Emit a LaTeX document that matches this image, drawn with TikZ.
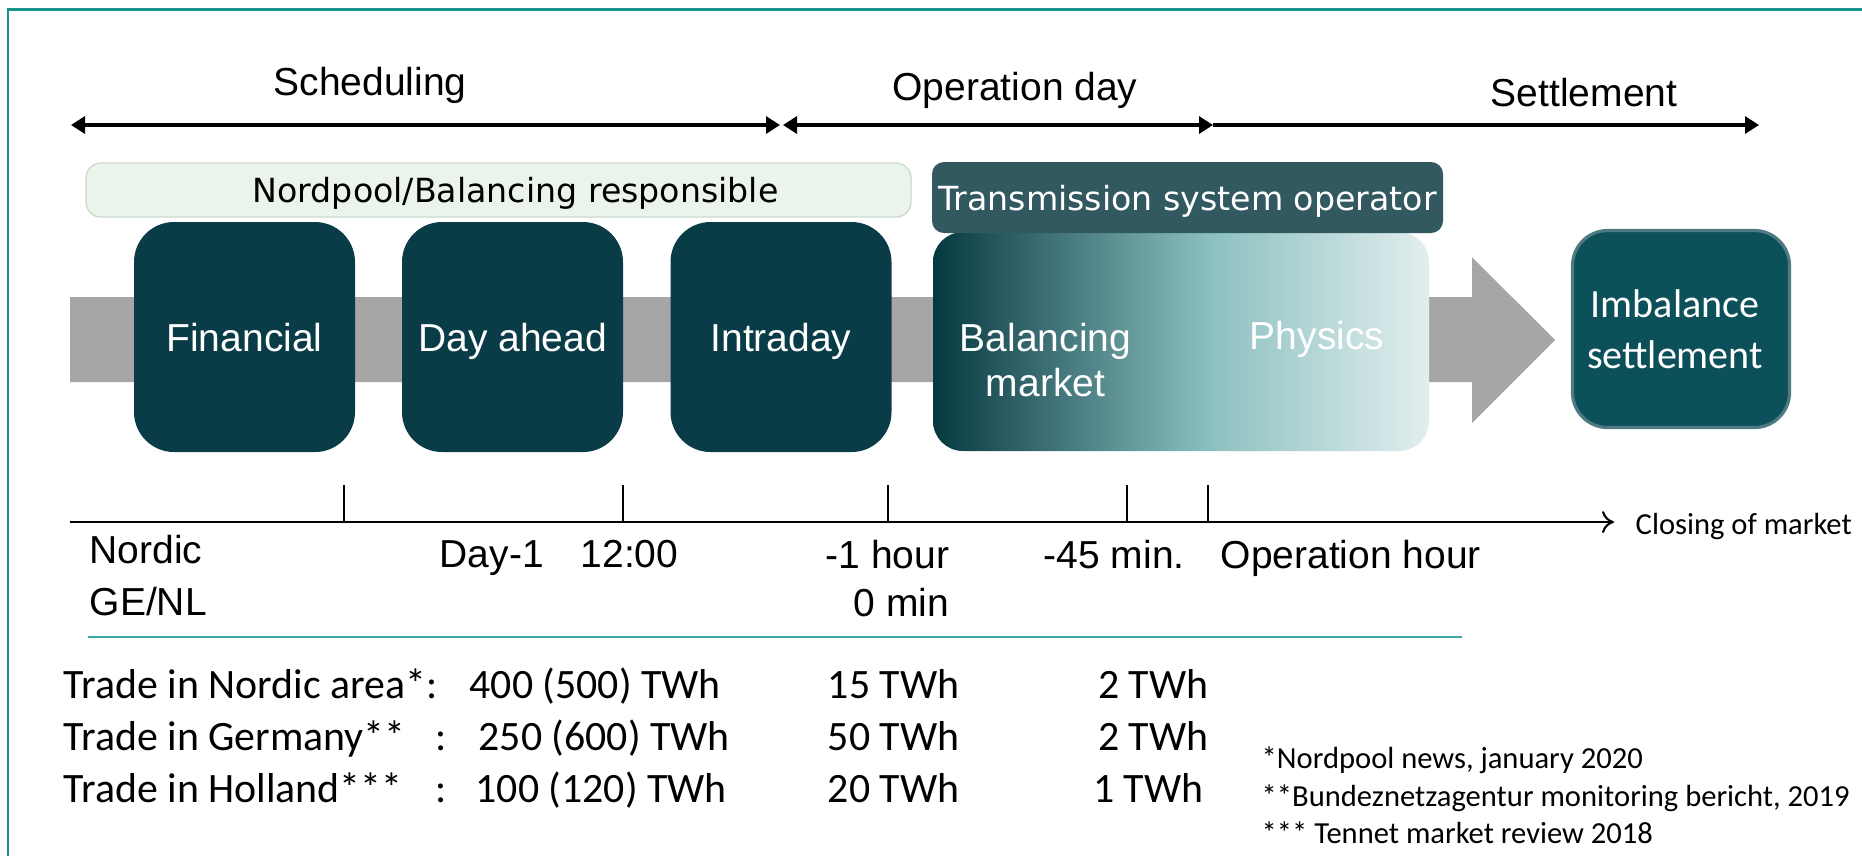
\documentclass[tikz,border=0pt]{standalone}
\usepackage{fontspec}
\setmainfont{Liberation Sans}
\newfontfamily\carlito{Carlito}
\newfontfamily\dejavu{DejaVu Sans}
\usetikzlibrary{arrows.meta}

\definecolor{frameteal}{RGB}{24,148,144}
\definecolor{rulerteal}{RGB}{60,168,166}
\definecolor{boxdark}{RGB}{9,60,70}
\definecolor{tsoslate}{RGB}{50,88,96}
\definecolor{nordfill}{RGB}{234,244,234}
\definecolor{nordedge}{RGB}{204,218,204}
\definecolor{bargray}{RGB}{166,166,166}
\definecolor{imbfill}{RGB}{12,80,90}
\definecolor{imbedge}{RGB}{80,122,130}
\definecolor{fadedark}{RGB}{6,56,64}
\definecolor{fademid}{RGB}{140,192,192}
\definecolor{fadelight}{RGB}{226,238,238}

\pgfdeclarehorizontalshading{tsofade}{100bp}{color(0bp)=(fadedark); color(25bp)=(fadedark); color(53bp)=(fademid); color(75bp)=(fadelight); color(100bp)=(fadelight)}

\tikzset{
	phasetip/.tip={Triangle[width=0.17cm,length=0.14cm]},
	phasearrow/.style={line width=0.9pt, black},
	phaselabel/.style={anchor=base, font=\fontsize{11.1}{13}\selectfont},
	frameline/.style={line width=0.85pt, frameteal},
	rulerline/.style={line width=0.5pt, rulerteal},
	axisline/.style={line width=0.6pt, black},
	rolebox/.style={rectangle, inner sep=0pt, text depth=0pt, font=\dejavu\fontsize{9.45}{11}\selectfont},
	marketbox/.style={rectangle, rounded corners=0.4cm, fill=boxdark, text=white, inner sep=0pt, text depth=0pt,
		minimum width=2.21cm, minimum height=2.30cm, font=\fontsize{11.1}{13}\selectfont},
	boxlabel/.style={text=white, inner sep=0pt, font=\fontsize{11.1}{12.8}\selectfont},
	timelabel/.style={inner sep=0pt, font=\fontsize{11.1}{13}\selectfont},
	tradetext/.style={inner sep=0pt, font=\carlito\fontsize{11.9}{14}\selectfont},
	smallnote/.style={inner sep=0pt, font=\carlito\fontsize{8.7}{10}\selectfont}
}

\begin{document}
\begin{tikzpicture}
	%%%%% FRAME %%%%%
	\useasboundingbox (0,0) rectangle (18.62,-8.56);
	\draw[frameline] (0.08,-8.56) -- (0.08,-0.09) -- (18.62,-0.09);
	
	%%%%% PHASES %%%%%
	\coordinate (schedL) at (0.71,-1.25);
	\coordinate (schedR) at (7.80,-1.25);
	\coordinate (operL) at (7.83,-1.25);
	\coordinate (operR) at (12.13,-1.25);
	\coordinate (settR) at (17.59,-1.25);
	\draw[phasearrow, phasetip-phasetip] (schedL) -- (schedR);
	\draw[phasearrow, phasetip-phasetip] (operL) -- (operR);
	\draw[phasearrow, -phasetip] (operR) -- (settR);
	\node[phaselabel] (sched) at (3.70,-0.95) {Scheduling};
	\node[phaselabel] (oper) at (10.15,-1.00) {Operation day};
	\node[phaselabel] (sett) at (15.84,-1.06) {Settlement};
	
	%%%%% GREY ARROW %%%%%
	\fill[bargray] (0.70,-2.97) -- (14.72,-2.97) -- (14.72,-2.57) -- (15.55,-3.40)
		-- (14.72,-4.23) -- (14.72,-3.82) -- (0.70,-3.82) -- cycle;
	
	%%%%% ROLES %%%%%
	\node[rolebox, rounded corners=0.15cm, fill=nordfill, draw=nordedge, line width=0.4pt,
		minimum width=8.25cm, minimum height=0.54cm] (nordpool) at (4.985,-1.90) {\hspace*{0.34cm}Nordpool/Balancing responsible};
	
	\node[marketbox] (financial) at (2.445,-3.37) {Financial};
	\node[marketbox] (dayahead) at (5.125,-3.37) {Day ahead};
	\node[marketbox] (intraday) at (7.81,-3.37) {Intraday};
	
	\node[rectangle, rounded corners=0.3cm, shade, shading=tsofade, inner sep=0pt,
		minimum width=4.96cm, minimum height=2.19cm] (balancebox) at (11.81,-3.415) {};
	\node[rolebox, rounded corners=0.12cm, fill=tsoslate, text=white,
		minimum width=5.11cm, minimum height=0.71cm] (tso) at (11.875,-1.975) {Transmission system operator};
	\node[boxlabel, align=center] (balmarket) at (10.455,-3.60) {Balancing\\market};
	\node[boxlabel, text depth=0pt] (physics) at (13.17,-3.35) {Physics};
	
	\node[rectangle, rounded corners=0.35cm, fill=imbfill, draw=imbedge, line width=0.9pt,
		minimum width=2.17cm, minimum height=1.97cm, text=white, align=center,
		font=\carlito\fontsize{11.4}{14.4}\selectfont] (imbalance) at (16.81,-3.29) {Imbalance\hspace*{0.12cm}\\settlement\hspace*{0.12cm}};
	
	%%%%% TIMELINE %%%%%
	\coordinate (axisL) at (0.70,-5.22);
	\coordinate (axisR) at (16.14,-5.22);
	\draw[axisline, -{To[length=0.12cm,width=0.22cm]}] (axisL) -- (axisR);
	\foreach \tx in {3.44,6.23,8.88,11.27,12.08}
		\draw[axisline] (\tx,-4.85) -- (\tx,-5.22);
	\node[smallnote, anchor=base west] (closing) at (16.35,-5.34) {Closing of market};
	
	\node[timelabel, anchor=base west] (nordic) at (0.89,-5.63) {Nordic};
	\node[timelabel, anchor=base west] (genl) at (0.89,-6.15) {GE/NL};
	\node[timelabel, anchor=base west] (dayone) at (4.39,-5.67) {Day-1};
	\node[timelabel, anchor=base west] (noon) at (5.80,-5.67) {12:00};
	\node[timelabel, anchor=base east] (onehour) at (9.50,-5.68) {-1 hour};
	\node[timelabel, anchor=base east] (zeromin) at (9.50,-6.16) {0 min};
	\node[timelabel, anchor=base west] (fortyfive) at (10.43,-5.68) {-45 min.};
	\node[timelabel, anchor=base west] (ophour) at (12.20,-5.68) {Operation hour};
	
	\draw[rulerline] (0.88,-6.37) -- (14.62,-6.37);
	
	%%%%% TRADE %%%%%
	\node[tradetext, anchor=base west] (nordrow) at (0.63,-6.98) {Trade in Nordic area*:};
	\node[tradetext, anchor=base west] (gerrow) at (0.63,-7.50) {\makebox[3.72cm][l]{Trade in Germany**}:};
	\node[tradetext, anchor=base west] (holrow) at (0.63,-8.02) {\makebox[3.72cm][l]{Trade in Holland***}:};
	
	\node[tradetext, anchor=base west] (nordyear) at (4.69,-6.98) {400 (500) TWh};
	\node[tradetext, anchor=base west] (geryear) at (4.78,-7.50) {250 (600) TWh};
	\node[tradetext, anchor=base west] (holyear) at (4.75,-8.02) {100 (120) TWh};
	
	\node[tradetext, anchor=base east] (nordintra) at (9.60,-6.98) {15 TWh};
	\node[tradetext, anchor=base east] (gerintra) at (9.60,-7.50) {50 TWh};
	\node[tradetext, anchor=base east] (holintra) at (9.60,-8.02) {20 TWh};
	
	\node[tradetext, anchor=base east] (nordbal) at (12.09,-6.98) {2 TWh};
	\node[tradetext, anchor=base east] (gerbal) at (12.09,-7.50) {2 TWh};
	\node[tradetext, anchor=base east] (holbal) at (12.04,-8.02) {1 TWh};
	
	%%%%% SOURCES %%%%%
	\node[smallnote, anchor=base west] (srcone) at (12.61,-7.68) {*Nordpool news, january 2020};
	\node[smallnote, anchor=base west] (srctwo) at (12.61,-8.06) {**Bundeznetzagentur monitoring bericht, 2019};
	\node[smallnote, anchor=base west] (srcthree) at (12.61,-8.43) {*** Tennet market review 2018};
\end{tikzpicture}
\end{document}
